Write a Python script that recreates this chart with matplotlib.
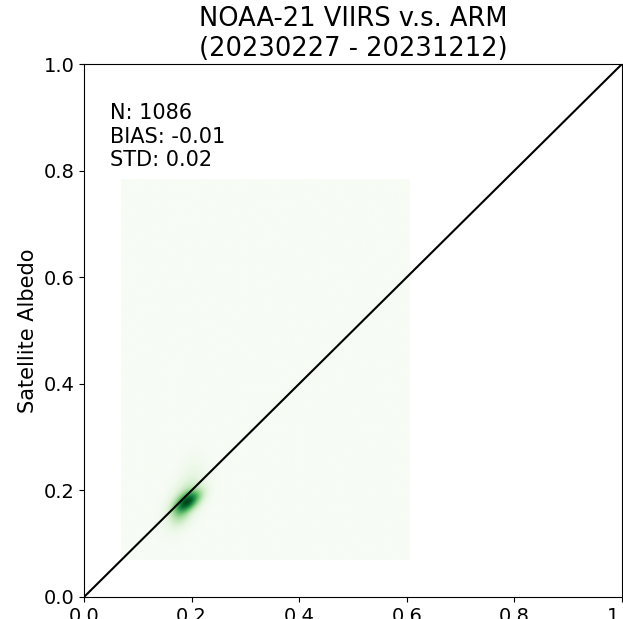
import numpy as np
import matplotlib
matplotlib.use('Agg')
import matplotlib.pyplot as plt

# ----- DATA -------------------------------
title = 'NOAA-21 VIIRS v.s. ARM\n(20230227 - 20231212)'
ylabel = 'Satellite Albedo'
n_obs = 1086
bias = -0.01
std = 0.02

# extent of the density grid (min / max of ground and satellite albedo)
x_range = [0.069, 0.606]
y_range = [0.069, 0.782]

# density made of a few blobs: centre, spread, correlation, weight
blob_x = [0.193, 0.188, 0.200, 0.178]
blob_y = [0.178, 0.180, 0.240, 0.150]
blob_sx = [0.017, 0.022, 0.016, 0.013]
blob_sy = [0.014, 0.030, 0.025, 0.016]
blob_rho = [0.55, 0.5, 0.3, 0.3]
blob_w = [1.0, 0.4, 0.06, 0.2]

ticks = [0.0, 0.2, 0.4, 0.6, 0.8, 1.0]

# ----- DENSITY GRID ------
gx = np.linspace(x_range[0], x_range[1], 300)
gy = np.linspace(y_range[0], y_range[1], 400)
X, Y = np.meshgrid(gx, gy)
Z = np.zeros_like(X)
for cx, cy, sx, sy, r, w in zip(blob_x, blob_y, blob_sx, blob_sy, blob_rho, blob_w):
    dx = (X - cx) / sx
    dy = (Y - cy) / sy
    q = (dx**2 - 2 * r * dx * dy + dy**2) / (1 - r**2)
    Z += w * np.exp(-0.5 * q)

# ----- PLOT ------
fig = plt.figure(figsize=(6.23, 6.19), dpi=100)
ax = fig.add_axes([84 / 623, 22 / 619, 538 / 623, 533 / 619])

ax.imshow(Z, origin='lower', cmap='Greens', aspect='auto',
          extent=[x_range[0], x_range[1], y_range[0], y_range[1]])
ax.plot([0, 1], [0, 1], color='black', linewidth=1.5)

ax.set_xlim(0, 1)
ax.set_ylim(0, 1)
ax.set_xticks(ticks)
ax.set_yticks(ticks)
ax.tick_params(labelsize=14)
ax.set_ylabel(ylabel, fontsize=15)
ax.set_title(title, fontsize=18.5)

stats = 'N: %d\nBIAS: %.2f\nSTD: %.2f' % (n_obs, bias, std)
ax.text(0.048, 0.926, stats, transform=ax.transAxes, fontsize=15,
        va='top', ha='left', linespacing=1.2)

fig.savefig('out.png', dpi=100)
